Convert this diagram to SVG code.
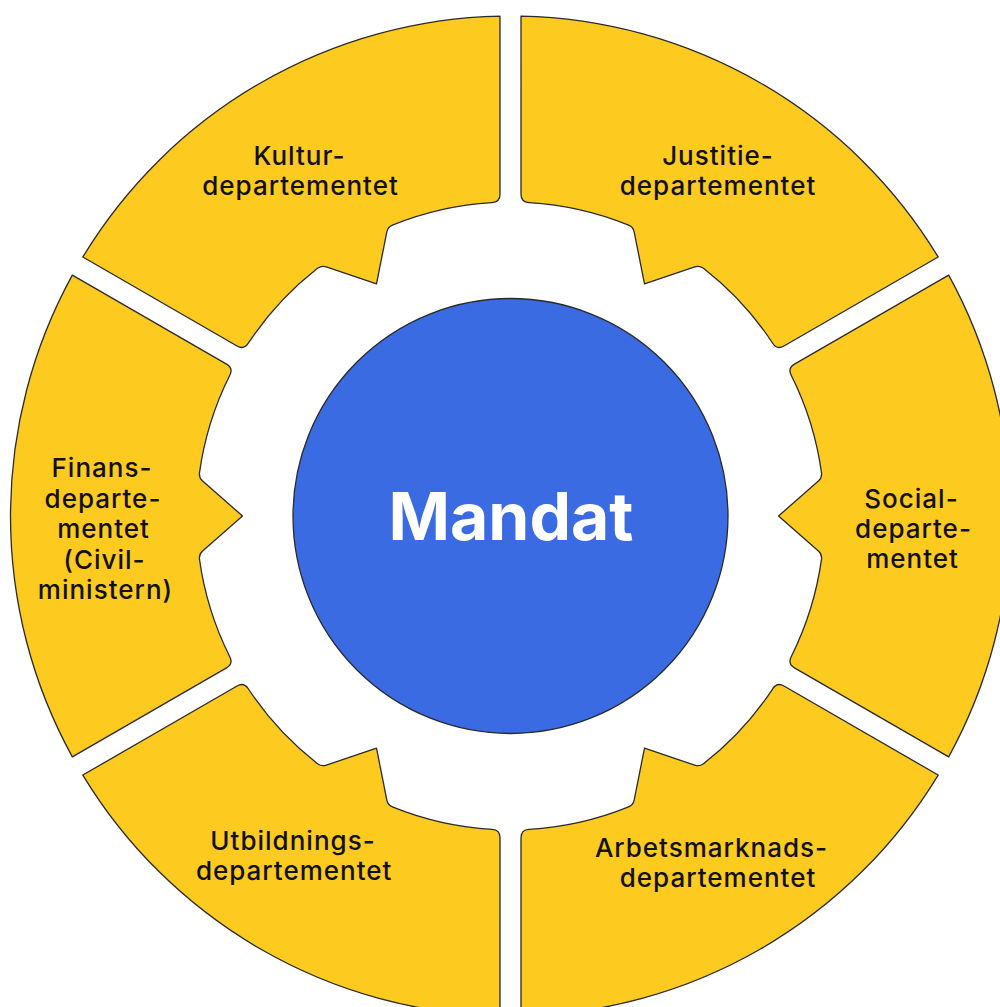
<svg xmlns="http://www.w3.org/2000/svg" width="1000" height="1007" viewBox="0 0 1000 1007">
<style>
.seg{fill:#FDCA1F;stroke:#2a2a2a;stroke-width:1.3;stroke-linejoin:round}
.lbl{font-family:Inter,"Noto Sans","DejaVu Sans",sans-serif;font-size:26px;font-weight:500;letter-spacing:1px;fill:#111;text-anchor:middle}
.hub{fill:#3B6BE3;stroke:#2a2a2a;stroke-width:1.3}
.hubt{font-family:Inter,"Noto Sans","DejaVu Sans",sans-serif;font-size:66px;font-weight:700;fill:#fff;text-anchor:middle}
</style>
<defs>
<path id="segment" d="M 240.85,-438.17 L 151.82,-283.95 Q 147.82,-277.02 140.68,-280.72 A 314 314 0 0 0 43.21,-311.01 Q 38.27,-311.66 34.97,-307.90 L 0,-268 L -34.97,-307.90 Q -38.27,-311.66 -43.21,-311.01 A 314 314 0 0 0 -140.68,-280.72 Q -147.82,-277.02 -151.82,-283.95 L -240.85,-438.17 A 500 500 0 0 1 240.85,-438.17 Z"/>
</defs>
<rect x="0" y="0" width="1000" height="1007" fill="#fff"/>
<g id="connectors"/>
<g id="node-kultur">
<use href="#segment" class="seg" transform="translate(510.5,516) rotate(-30)"/>
<text class="lbl"><tspan x="299.5" y="165">Kultur-</tspan><tspan x="300.5" y="195">departementet</tspan></text>
</g>
<g id="node-justitie">
<use href="#segment" class="seg" transform="translate(510.5,516) rotate(30)"/>
<text class="lbl"><tspan x="718" y="164.5">Justitie-</tspan><tspan x="718" y="194.5">departementet</tspan></text>
</g>
<g id="node-social">
<use href="#segment" class="seg" transform="translate(510.5,516) rotate(90)"/>
<text class="lbl"><tspan x="911.5" y="507.5">Social-</tspan><tspan x="913.5" y="537.5">departe-</tspan><tspan x="912.5" y="568">mentet</tspan></text>
</g>
<g id="node-arbetsmarknad">
<use href="#segment" class="seg" transform="translate(510.5,516) rotate(150)"/>
<text class="lbl"><tspan x="711.5" y="857">Arbetsmarknads-</tspan><tspan x="718" y="887">departementet</tspan></text>
</g>
<g id="node-utbildning">
<use href="#segment" class="seg" transform="translate(510.5,516) rotate(-150)"/>
<text class="lbl"><tspan x="293" y="850">Utbildnings-</tspan><tspan x="294.2" y="880">departementet</tspan></text>
</g>
<g id="node-finans">
<use href="#segment" class="seg" transform="translate(510.5,516) rotate(-90)"/>
<text class="lbl"><tspan x="102" y="477">Finans-</tspan><tspan x="103" y="507.5">departe-</tspan><tspan x="103.5" y="538">mentet</tspan><tspan x="104.5" y="568.5">(Civil-</tspan><tspan x="105.5" y="599">ministern)</tspan></text>
</g>
<g id="node-mandat">
<circle class="hub" cx="510.5" cy="516" r="217.5"/>
<text class="hubt" x="511" y="540">Mandat</text>
</g>
</svg>
